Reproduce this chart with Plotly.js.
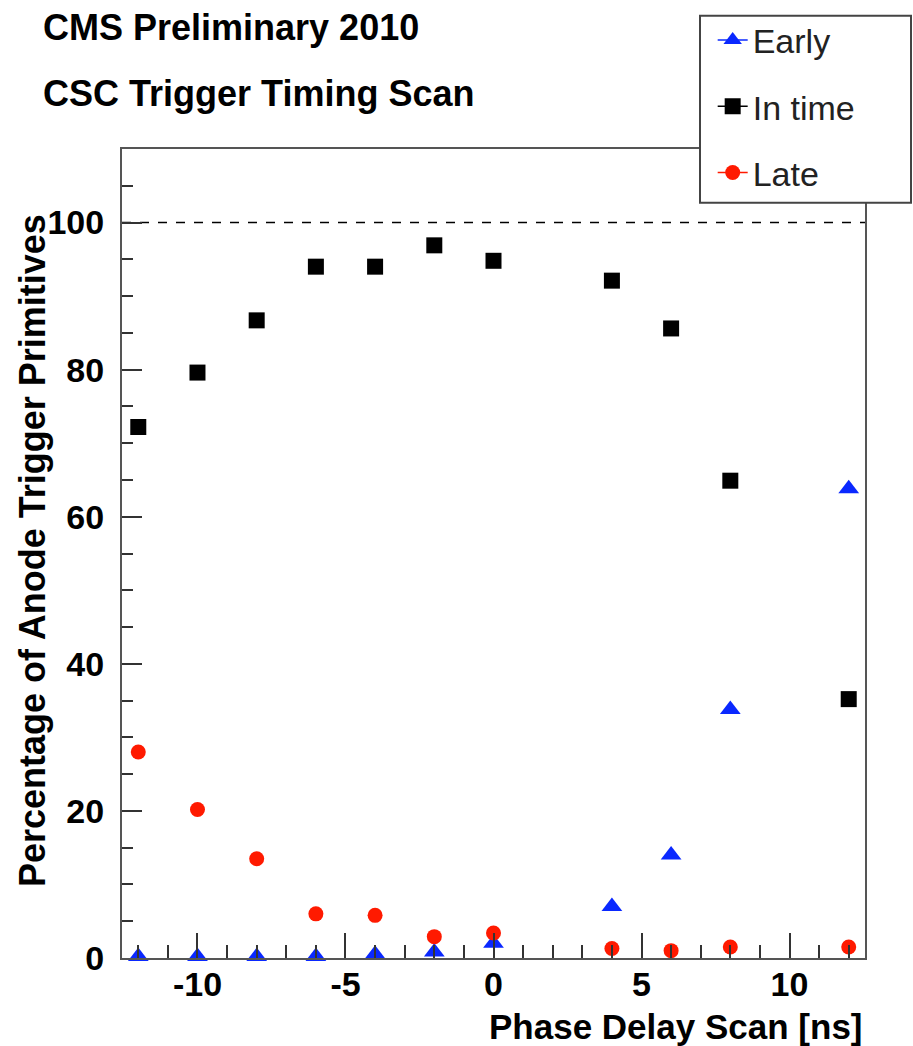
<!DOCTYPE html>
<html>
<head>
<meta charset="utf-8">
<script src="https://cdn.plot.ly/plotly-3.0.1.min.js"></script>
<style>html,body{margin:0;padding:0;background:#fff;}</style>
</head>
<body>
<div id="chart" style="width:913px;height:1046px;"></div>
<script>
// Phase delay (ns)
const phaseDelay = [-12, -10, -8, -6, -4, -2, 0, 4, 6, 8, 12];
// Percentage of anode trigger primitives
const earlyPct  = [0.2, 0.2, 0.2, 0.2, 0.5, 0.8, 2.0, 7.0, 14.0, 33.8, 63.8];
const inTimePct = [72.2, 79.6, 86.7, 94.0, 94.0, 96.9, 94.8, 92.1, 85.6, 64.9, 35.2];
const latePct   = [28.0, 20.2, 13.5, 6.0, 5.8, 2.9, 3.4, 1.3, 1.0, 1.5, 1.5];

const seriesNames = ['Early', 'In time', 'Late'];
const xTickVals = [-10, -5, 0, 5, 10];
const xTickText = ['-10', '-5', '0', '5', '10'];
const yTickVals = [0, 20, 40, 60, 80, 100];
const yTickText = ['0', '20', '40', '60', '80', '100'];

const titleLine1 = 'CMS Preliminary 2010';
const titleLine2 = 'CSC Trigger Timing Scan';
const xTitle = 'Phase Delay Scan [ns]';
const yTitle = 'Percentage of Anode Trigger Primitives';

const FONT = 'Liberation Sans, Arial, Helvetica, sans-serif';
const BLUE = '#0a28ff', BLACK = '#000000', RED = '#ff1a00';

const styles = [
  {color: BLUE, symbol: 'triangle-up', size: 18, y: earlyPct},
  {color: BLACK, symbol: 'square', size: 16, y: inTimePct},
  {color: RED, symbol: 'circle', size: 15, y: latePct}
];

const traces = [];
styles.forEach((s, i) => {
  traces.push({
    type: 'scatter', mode: 'markers', x: phaseDelay, y: s.y,
    name: seriesNames[i], showlegend: false, cliponaxis: false,
    marker: {color: s.color, symbol: s.symbol, size: s.size, line: {width: 0}}
  });
});
// legend entries (ROOT "lp" style: line + marker)
styles.forEach((s, i) => {
  traces.push({
    type: 'scatter', mode: 'lines+markers', x: [null], y: [null],
    name: seriesNames[i], legendgroup: 'g' + i, showlegend: true,
    line: {color: s.color, width: 1.5},
    marker: {color: s.color, symbol: s.symbol, size: Math.min(s.size, 16), line: {width: 0}}
  });
});

const layout = {
  width: 913, height: 1046,
  margin: {l: 122, r: 48, t: 145, b: 88, pad: 0},
  paper_bgcolor: '#ffffff', plot_bgcolor: '#ffffff',
  font: {family: FONT, color: '#000'},
  showlegend: true,
  legend: {
    x: 0.795, y: 1.170, xanchor: 'left', yanchor: 'top',
    bgcolor: 'rgba(0,0,0,0)', borderwidth: 0,
    font: {family: FONT, size: 34, color: '#222'},
    tracegroupgap: 19, itemsizing: 'trace'
  },
  xaxis: {
    range: [-12.55, 12.55], showgrid: false, zeroline: false,
    showline: true, linecolor: '#555', linewidth: 2, mirror: true,
    ticks: 'inside', ticklen: 25, tickwidth: 2, tickcolor: '#333',
    tickmode: 'array', tickvals: xTickVals, ticktext: xTickText,
    tickfont: {family: FONT, size: 34, color: '#000', weight: 'bold'},
    ticklabelstandoff: -5,
    minor: {tickmode: 'linear', tick0: 0, dtick: 1, ticks: 'inside', ticklen: 13, tickwidth: 2, tickcolor: '#333', showgrid: false}
  },
  yaxis: {
    range: [0, 110], showgrid: false, zeroline: false,
    showline: true, linecolor: '#555', linewidth: 2, mirror: true,
    ticks: 'inside', ticklen: 20, tickwidth: 2, tickcolor: '#333',
    tickmode: 'array', tickvals: yTickVals, ticktext: yTickText,
    tickfont: {family: FONT, size: 34, color: '#000', weight: 'bold'},
    ticklabelstandoff: 9,
    minor: {tickmode: 'linear', tick0: 0, dtick: 5, ticks: 'inside', ticklen: 11, tickwidth: 2, tickcolor: '#333', showgrid: false}
  },
  shapes: [
    {type: 'line', xref: 'paper', yref: 'y', x0: 0, x1: 1, y0: 100, y1: 100,
     line: {color: '#000', width: 1.5, dash: 'dash'}, layer: 'below'},
    {type: 'rect', xref: 'paper', yref: 'paper',
     x0: (700 - 122) / 743, x1: (911 - 122) / 743,
     y0: (958 - 199) / 813, y1: (958 - 11) / 813,
     fillcolor: '#ffffff', line: {color: '#444', width: 2}, layer: 'above'}
  ],
  annotations: [
    {text: titleLine1, xref: 'paper', yref: 'paper', x: (41 - 122) / 743, y: (958 - 23) / 813,
     xanchor: 'left', yanchor: 'middle', showarrow: false,
     font: {family: FONT, size: 36, color: '#000', weight: 'bold'}},
    {text: titleLine2, xref: 'paper', yref: 'paper', x: (41 - 122) / 743, y: (958 - 89) / 813,
     xanchor: 'left', yanchor: 'middle', showarrow: false,
     font: {family: FONT, size: 36, color: '#000', weight: 'bold'}},
    {text: xTitle, xref: 'paper', yref: 'paper', x: (865 - 122) / 743, y: (958 - 1027) / 813,
     xanchor: 'right', yanchor: 'middle', showarrow: false,
     font: {family: FONT, size: 35, color: '#000', weight: 'bold'}},
    {text: yTitle, xref: 'paper', yref: 'paper', x: (32 - 122) / 743, y: (958 - 549) / 813,
     xanchor: 'center', yanchor: 'middle', textangle: -90, showarrow: false,
     font: {family: FONT, size: 36, color: '#000', weight: 'bold'}}
  ]
};

Plotly.newPlot('chart', traces, layout, {displayModeBar: false, staticPlot: true});
</script>
</body>
</html>
